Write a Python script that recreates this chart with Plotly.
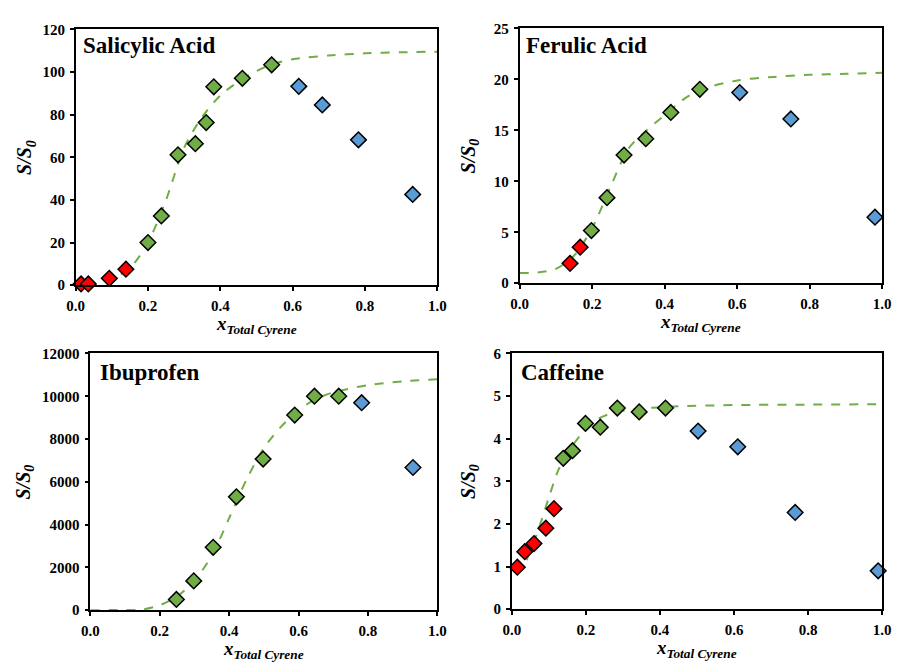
import plotly.graph_objects as go

W, H = 902, 666

# ---------------- data ----------------
x_ticks = [0.0, 0.2, 0.4, 0.6, 0.8, 1.0]
x_tick_labels = ["0.0", "0.2", "0.4", "0.6", "0.8", "1.0"]

# Salicylic Acid
sa_red_x = [0.015, 0.035, 0.093, 0.139]
sa_red_y = [0.6, 0.6, 3.2, 7.5]
sa_green_x = [0.200, 0.237, 0.283, 0.331, 0.361, 0.382, 0.461, 0.542]
sa_green_y = [20.0, 32.5, 61.2, 66.4, 76.3, 93.1, 97.1, 103.4]
sa_blue_x = [0.617, 0.682, 0.782, 0.932]
sa_blue_y = [93.3, 84.6, 68.2, 42.6]
sa_fit_x = [0.03, 0.05, 0.10, 0.15, 0.20, 0.25, 0.30, 0.35, 0.40, 0.45, 0.50, 0.55, 0.60, 0.70, 0.80, 0.90, 1.00]
sa_fit_y = [0.5, 1.0, 3.0, 8.0, 20.0, 40.0, 64.5, 79.0, 89.0, 95.5, 100.5, 104.0, 106.0, 107.8, 108.8, 109.3, 109.6]
sa_y_ticks = [0, 20, 40, 60, 80, 100, 120]

# Ferulic Acid
fa_red_x = [0.139, 0.167]
fa_red_y = [1.95, 3.54]
fa_green_x = [0.198, 0.241, 0.288, 0.348, 0.417, 0.497]
fa_green_y = [5.17, 8.40, 12.58, 14.18, 16.76, 19.03]
fa_blue_x = [0.607, 0.748, 0.980]
fa_blue_y = [18.71, 16.12, 6.48]
fa_fit_x = [0.0, 0.05, 0.10, 0.15, 0.20, 0.25, 0.30, 0.35, 0.40, 0.45, 0.50, 0.60, 0.70, 0.80, 0.90, 1.00]
fa_fit_y = [1.0, 1.05, 1.4, 2.7, 5.4, 9.4, 13.2, 15.0, 16.5, 18.0, 19.0, 19.9, 20.25, 20.45, 20.55, 20.65]
fa_y_ticks = [0, 5, 10, 15, 20, 25]

# Ibuprofen
ib_green_x = [0.248, 0.298, 0.354, 0.421, 0.498, 0.589, 0.646, 0.716]
ib_green_y = [502, 1370, 2939, 5300, 7066, 9122, 10005, 10005]
ib_blue_x = [0.782, 0.930]
ib_blue_y = [9700, 6670]
ib_fit_x = [0.0, 0.10, 0.15, 0.20, 0.25, 0.30, 0.35, 0.40, 0.45, 0.50, 0.55, 0.60, 0.65, 0.70, 0.80, 0.90, 1.00]
ib_fit_y = [0, 10, 30, 230, 650, 1380, 2550, 4300, 6100, 7580, 8580, 9350, 9870, 10180, 10520, 10700, 10800]
ib_y_ticks = [0, 2000, 4000, 6000, 8000, 10000, 12000]

# Caffeine
cf_red_x = [0.015, 0.035, 0.060, 0.092, 0.114]
cf_red_y = [0.985, 1.35, 1.54, 1.90, 2.36]
cf_green_x = [0.139, 0.164, 0.199, 0.239, 0.285, 0.344, 0.415]
cf_green_y = [3.54, 3.72, 4.36, 4.27, 4.72, 4.63, 4.72]
cf_blue_x = [0.503, 0.610, 0.765, 0.989]
cf_blue_y = [4.18, 3.81, 2.27, 0.90]
cf_fit_x = [0.04, 0.07, 0.10, 0.125, 0.15, 0.19, 0.23, 0.27, 0.33, 0.45, 0.60, 0.80, 1.00]
cf_fit_y = [1.15, 1.82, 2.62, 3.25, 3.66, 4.13, 4.45, 4.60, 4.69, 4.76, 4.79, 4.80, 4.81]
cf_y_ticks = [0, 1, 2, 3, 4, 5, 6]

panels = [
    dict(name="Salicylic Acid", red=(sa_red_x, sa_red_y), green=(sa_green_x, sa_green_y),
         blue=(sa_blue_x, sa_blue_y), fit=(sa_fit_x, sa_fit_y), yticks=sa_y_ticks,
         px=(68, 437), py=(22, 284), title_pos=(73, 38), ytx=17),
    dict(name="Ferulic Acid", red=(fa_red_x, fa_red_y), green=(fa_green_x, fa_green_y),
         blue=(fa_blue_x, fa_blue_y), fit=(fa_fit_x, fa_fit_y), yticks=fa_y_ticks,
         px=(521, 891), py=(21, 282), title_pos=(525, 38), ytx=470),
    dict(name="Ibuprofen", red=None, green=(ib_green_x, ib_green_y),
         blue=(ib_blue_x, ib_blue_y), fit=(ib_fit_x, ib_fit_y), yticks=ib_y_ticks,
         px=(83, 437), py=(354, 617), title_pos=(91, 373), ytx=16),
    dict(name="Caffeine", red=(cf_red_x, cf_red_y), green=(cf_green_x, cf_green_y),
         blue=(cf_blue_x, cf_blue_y), fit=(cf_fit_x, cf_fit_y), yticks=cf_y_ticks,
         px=(513, 891), py=(354, 616), title_pos=(520, 373), ytx=470),
]

RED = "#FF0000"
GREEN = "#70AD47"
BLUE = "#5B9BD5"
FONT = "Liberation Serif"

fig = go.Figure()
annotations = []
layout_axes = {}

for i, p in enumerate(panels, start=1):
    xa = "x" if i == 1 else f"x{i}"
    ya = "y" if i == 1 else f"y{i}"
    x0, x1 = p["px"]
    y0, y1 = p["py"]
    xdom = [x0 / W, x1 / W]
    ydom = [(H - y1) / H, (H - y0) / H]
    fx, fy = p["fit"]
    fig.add_trace(go.Scatter(x=fx, y=fy, mode="lines", xaxis=xa, yaxis=ya,
                             line=dict(color=GREEN, width=2, dash="dash", shape="spline", smoothing=0.8),
                             showlegend=False, hoverinfo="skip"))
    for key, col in (("red", RED), ("green", GREEN), ("blue", BLUE)):
        if p[key] is None:
            continue
        sx, sy = p[key]
        fig.add_trace(go.Scatter(x=sx, y=sy, mode="markers", xaxis=xa, yaxis=ya,
                                 marker=dict(symbol="diamond", size=12, color=col,
                                             line=dict(color="black", width=1.5)),
                                 showlegend=False, cliponaxis=False))
    common = dict(showline=True, linecolor="black", linewidth=1.5, mirror=True,
                  ticks="outside", ticklen=4, tickwidth=1.5, tickcolor="black",
                  showgrid=False, zeroline=False, ticklabelstandoff=2,
                  tickfont=dict(family=FONT, size=15, color="black", weight="bold"))
    xkey = "xaxis" if i == 1 else f"xaxis{i}"
    ykey = "yaxis" if i == 1 else f"yaxis{i}"
    yt = p["yticks"]
    layout_axes[xkey] = dict(domain=xdom, range=[0, 1], tickmode="array", tickvals=x_ticks,
                             ticktext=[f"<b>{t}</b>" for t in x_tick_labels],
                             anchor=ya, **common)
    layout_axes[ykey] = dict(domain=ydom, range=[yt[0], yt[-1]], tickmode="array", tickvals=yt,
                             ticktext=[f"<b>{t}</b>" for t in yt],
                             anchor=xa, **common)
    # panel title
    tx, ty = p["title_pos"]
    annotations.append(dict(text=f"<b>{p['name']}</b>", xref="paper", yref="paper",
                            x=tx / W, y=(H - ty) / H, xanchor="left", yanchor="middle",
                            showarrow=False, font=dict(family=FONT, size=23, color="black")))
    # y title
    annotations.append(dict(text="<b><i>S/S<sub>0</sub></i></b>", xref="paper", yref="paper",
                            x=p["ytx"] / W, y=(H - (y0 + y1) / 2) / H, xanchor="center", yanchor="middle",
                            textangle=-90, showarrow=False,
                            font=dict(family=FONT, size=20, color="black")))
    # x title
    annotations.append(dict(text="<b><i>x</i></b><sub><b><i>Total Cyrene</i></b></sub>",
                            xref="paper", yref="paper",
                            x=((x0 + x1) / 2) / W, y=(H - (y1 + 41)) / H,
                            xanchor="center", yanchor="middle", showarrow=False,
                            font=dict(family=FONT, size=19, color="black")))

fig.update_layout(width=W, height=H, margin=dict(l=0, r=0, t=0, b=0),
                  plot_bgcolor="white", paper_bgcolor="white",
                  annotations=annotations, showlegend=False, **layout_axes)

fig.write_html("out.html")
